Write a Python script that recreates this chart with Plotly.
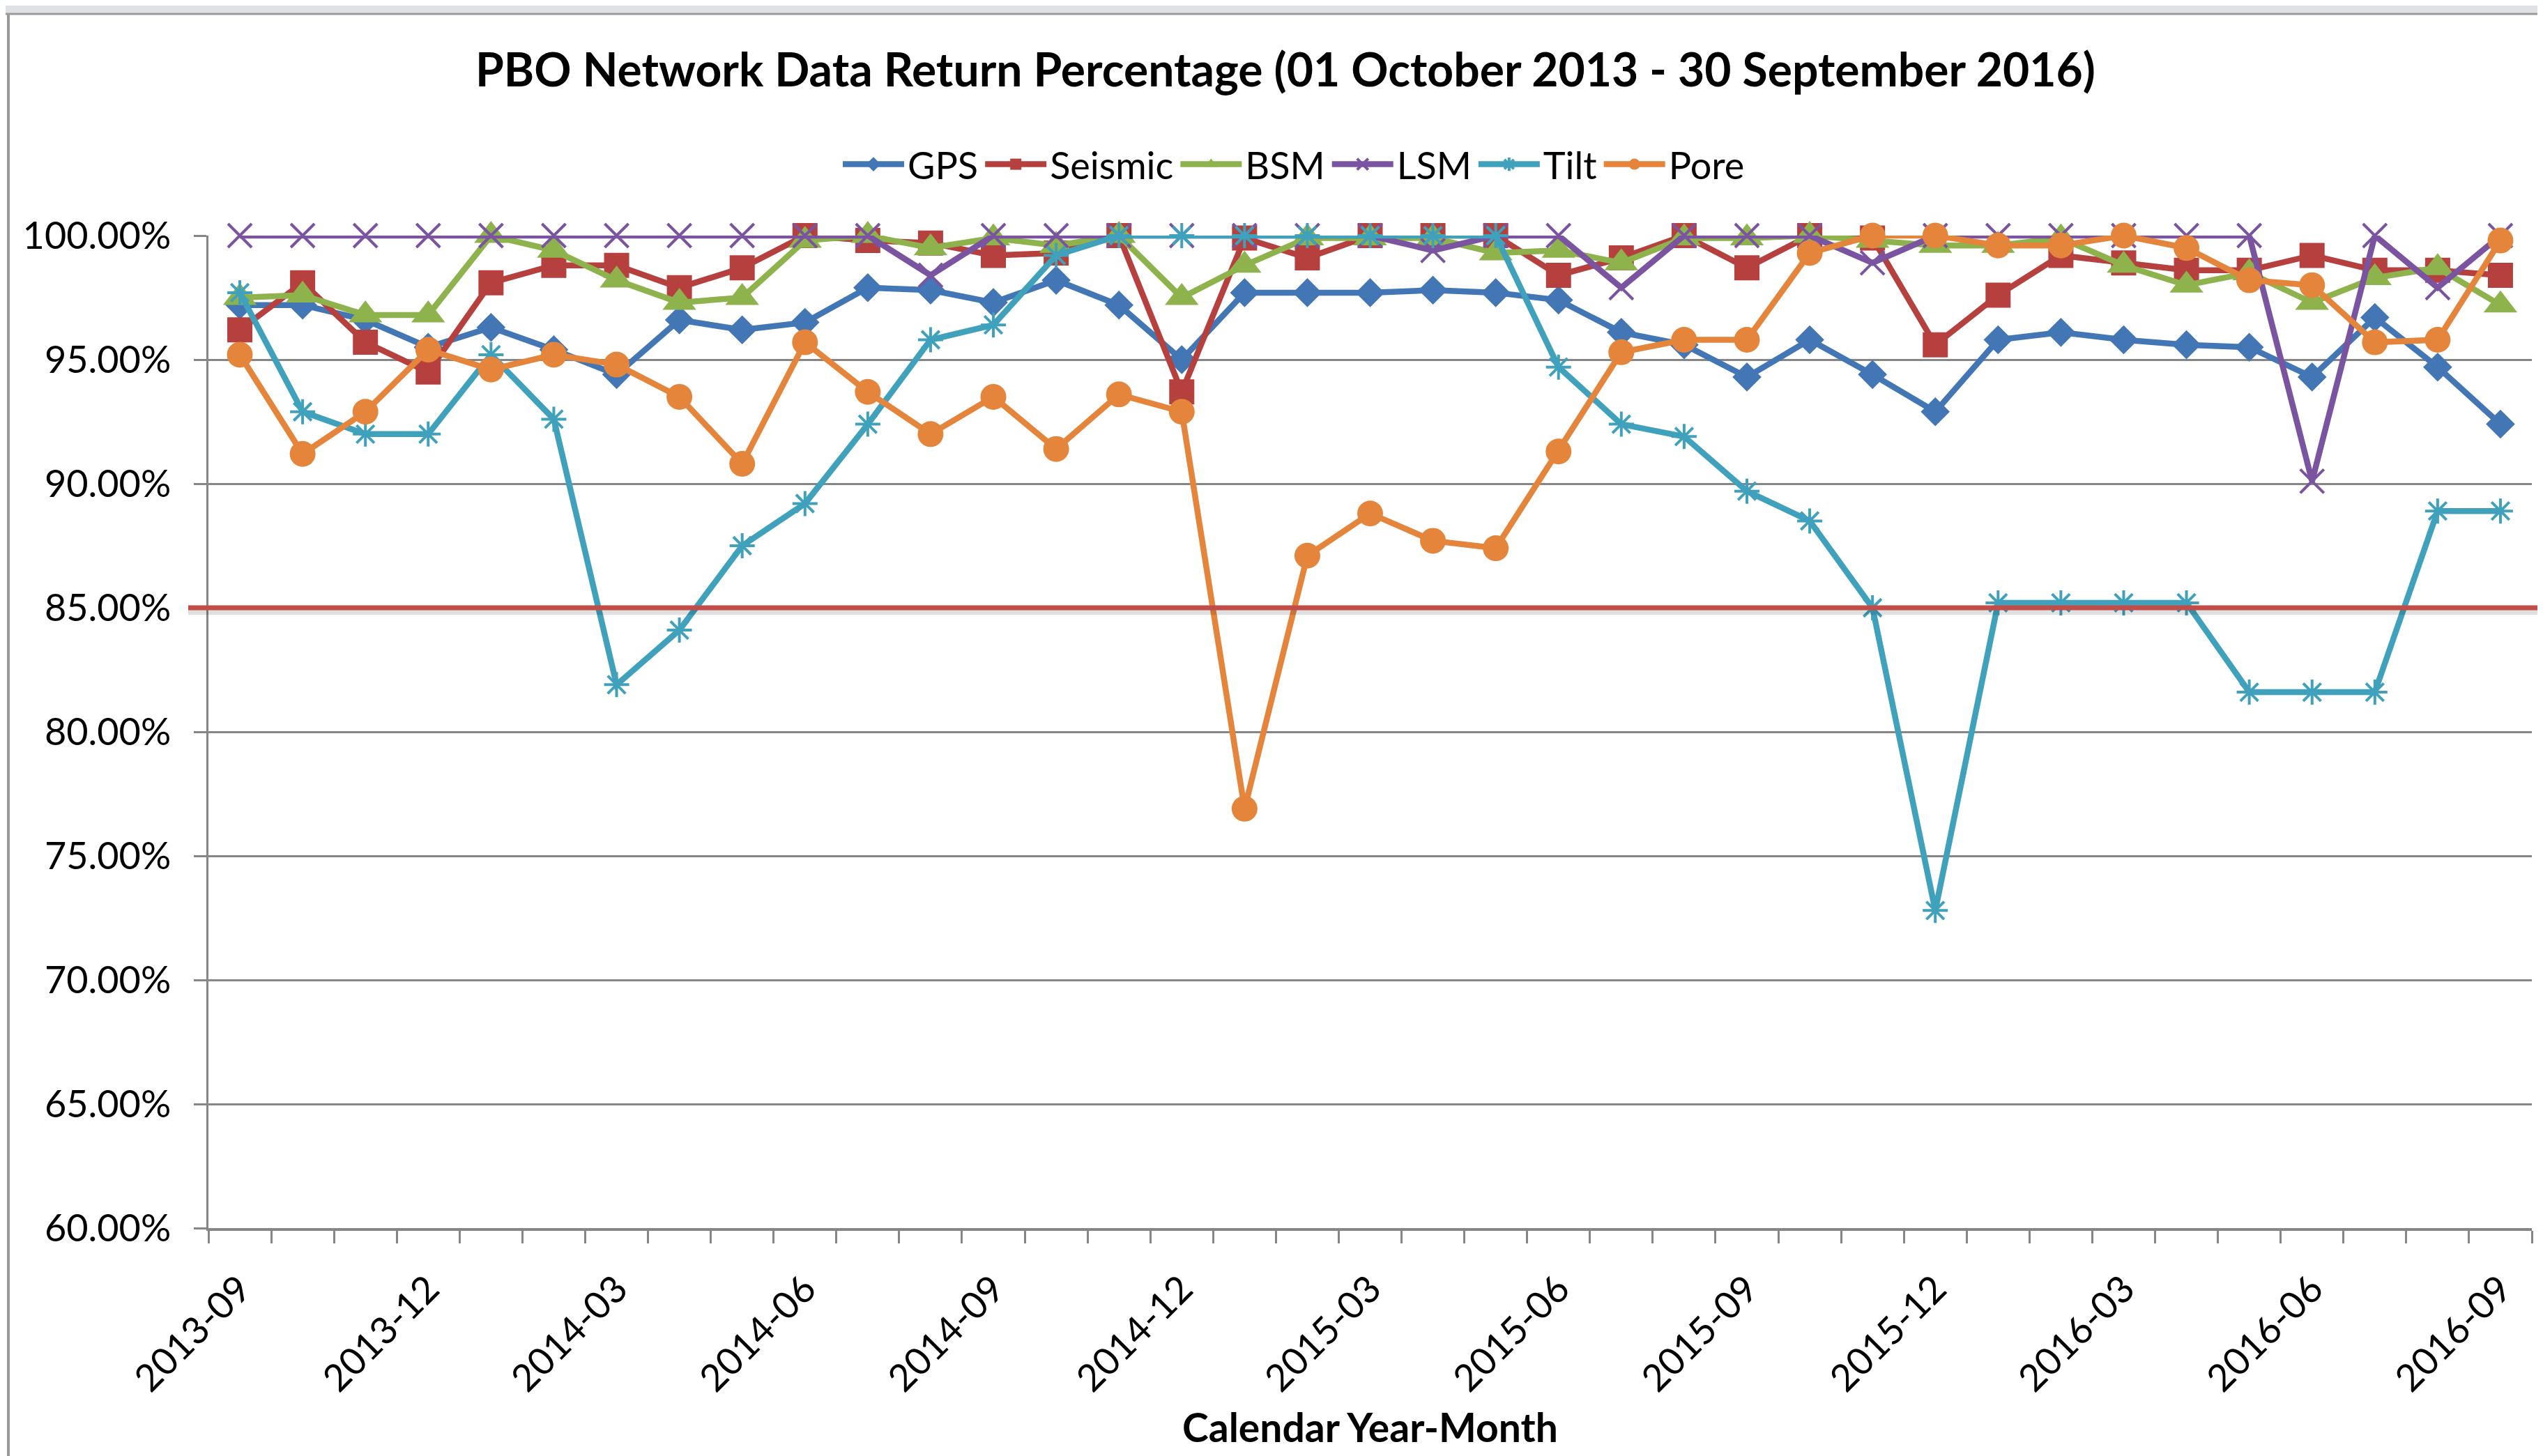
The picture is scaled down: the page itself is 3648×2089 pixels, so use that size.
import plotly.graph_objects as go

months = ["2013-09", "2013-10", "2013-11", "2013-12", "2014-01", "2014-02", "2014-03",
          "2014-04", "2014-05", "2014-06", "2014-07", "2014-08", "2014-09", "2014-10",
          "2014-11", "2014-12", "2015-01", "2015-02", "2015-03", "2015-04", "2015-05",
          "2015-06", "2015-07", "2015-08", "2015-09", "2015-10", "2015-11", "2015-12",
          "2016-01", "2016-02", "2016-03", "2016-04", "2016-05", "2016-06", "2016-07",
          "2016-08", "2016-09"]
labeled_months = ["2013-09", "2013-12", "2014-03", "2014-06", "2014-09", "2014-12",
                  "2015-03", "2015-06", "2015-09", "2015-12", "2016-03", "2016-06", "2016-09"]

gps = [97.2, 97.2, 96.6, 95.5, 96.3, 95.4, 94.4, 96.6, 96.2, 96.5, 97.9, 97.8, 97.3,
       98.2, 97.2, 95.0, 97.7, 97.7, 97.7, 97.8, 97.7, 97.4, 96.1, 95.6, 94.3, 95.8,
       94.4, 92.9, 95.8, 96.1, 95.8, 95.6, 95.5, 94.3, 96.7, 94.7, 92.4]
seismic = [96.2, 98.1, 95.7, 94.5, 98.1, 98.8, 98.8, 97.9, 98.7, 100.0, 99.8, 99.7, 99.2,
           99.3, 100.0, 93.7, 99.9, 99.1, 100.0, 100.0, 100.0, 98.4, 99.1, 100.0, 98.7, 100.0,
           99.9, 95.6, 97.6, 99.2, 98.9, 98.6, 98.6, 99.2, 98.6, 98.6, 98.4]
bsm = [97.5, 97.6, 96.8, 96.8, 100.0, 99.4, 98.2, 97.3, 97.5, 99.8, 100.0, 99.5, 99.9,
       99.6, 100.0, 97.5, 98.8, 99.9, 99.9, 99.9, 99.3, 99.4, 98.9, 99.9, 99.9, 100.0,
       99.8, 99.6, 99.6, 99.9, 98.8, 98.0, 98.5, 97.3, 98.3, 98.7, 97.2]
lsm = [100.0, 100.0, 100.0, 100.0, 100.0, 100.0, 100.0, 100.0, 100.0, 100.0, 100.0, 98.4, 100.0,
       100.0, 100.0, 100.0, 100.0, 100.0, 100.0, 99.4, 100.0, 100.0, 97.9, 100.0, 100.0, 100.0,
       98.9, 100.0, 100.0, 100.0, 100.0, 100.0, 100.0, 90.1, 100.0, 97.9, 100.0]
tilt = [97.7, 92.9, 92.0, 92.0, 95.2, 92.6, 81.9, 84.1, 87.5, 89.2, 92.4, 95.8, 96.4,
        99.2, 100.0, 100.0, 100.0, 100.0, 100.0, 100.0, 100.0, 94.7, 92.4, 91.9, 89.7, 88.5,
        85.0, 72.8, 85.2, 85.2, 85.2, 85.2, 81.6, 81.6, 81.6, 88.9, 88.9]
pore = [95.2, 91.2, 92.9, 95.4, 94.6, 95.2, 94.8, 93.5, 90.8, 95.7, 93.7, 92.0, 93.5,
        91.4, 93.6, 92.9, 76.9, 87.1, 88.8, 87.7, 87.4, 91.3, 95.3, 95.8, 95.8, 99.3,
        100.0, 100.0, 99.6, 99.6, 100.0, 99.5, 98.2, 98.0, 95.7, 95.8, 99.8]
threshold = 85.0

series = [
    ("GPS", gps, "#4276B5", "diamond", 32, 0),
    ("Seismic", seismic, "#B5403E", "square", 36, 0),
    ("BSM", bsm, "#8EB24C", "triangle-up", 42, 0),
    ("LSM", lsm, "#7A54A0", "x-thin-open", 34, 4),
    ("Tilt", tilt, "#40A1BC", "asterisk-open", 30, 4),
    ("Pore", pore, "#E5853C", "circle", 37, 0),
]

W, H = 3648, 2089
L, R, T, B = 291, 3624, 330, 1754

def px_x(px):
    return (px - L) / (R - L)

def px_y(py):
    return (B - py) / (B - T)

FONT = "Lato, 'Open Sans', sans-serif"

fig = go.Figure()
for name, vals, color, sym, size, lw in series:
    fig.add_trace(go.Scatter(
        x=months, y=[v / 100 for v in vals], name=name, mode="lines+markers",
        line=dict(color=color, width=8.5),
        marker=dict(symbol=sym, size=size, color=color,
                    line=dict(color=color, width=lw)),
        cliponaxis=False,
    ))

ticktext = [m if m in labeled_months else "" for m in months]

fig.update_layout(
    width=W, height=H,
    margin=dict(l=L, r=W - R, t=T, b=H - B),
    paper_bgcolor="white", plot_bgcolor="white",
    font=dict(family=FONT, color="black", size=54),
    title=dict(text="<b>PBO Network Data Return Percentage (01 October 2013 - 30 September 2016)</b>",
               x=1836 / W, xref="container", xanchor="center",
               y=1 - 93 / H, yref="container", yanchor="middle",
               font=dict(family=FONT, size=66, color="black")),
    legend=dict(orientation="h", x=px_x(1848), xanchor="center",
                y=px_y(228), yanchor="middle",
                font=dict(family=FONT, size=54, color="black"),
                itemwidth=88, bgcolor="rgba(0,0,0,0)"),
    showlegend=True,
    xaxis=dict(type="category", categoryorder="array", categoryarray=months,
               tickmode="array", tickvals=months, ticktext=ticktext,
               tickson="boundaries", ticks="outside", ticklen=18, tickwidth=3,
               tickcolor="#868686", tickangle=-45, ticklabelstandoff=30,
               showline=True, linecolor="#868686", linewidth=4,
               showgrid=False, zeroline=False,
               tickfont=dict(family=FONT, size=54, color="black"),
               range=[-0.5, len(months) - 0.5]),
    yaxis=dict(range=[0.6, 1.0], tickmode="linear", tick0=0.6, dtick=0.05,
               tickformat=".2%", ticks="outside", ticklen=18, tickwidth=3,
               tickcolor="#868686", showline=True, linecolor="#868686", linewidth=3,
               showgrid=True, gridcolor="#868686", gridwidth=3, zeroline=False,
               ticklabelstandoff=22,
               tickfont=dict(family=FONT, size=54, color="black")),
)

# x-axis title
fig.add_annotation(text="<b>Calendar Year-Month</b>", xref="paper", yref="paper",
                   x=0.5, y=px_y(2039), xanchor="center", yanchor="middle",
                   showarrow=False, font=dict(family=FONT, size=57, color="black"))

# 85% threshold line with soft shadow
fig.add_shape(type="line", xref="paper", yref="y", x0=px_x(262), x1=px_x(3660),
              y0=threshold / 100 - 0.0013, y1=threshold / 100 - 0.0013,
              line=dict(color="rgba(0,0,0,0.12)", width=11), layer="above")
fig.add_shape(type="line", xref="paper", yref="y", x0=px_x(262), x1=px_x(3660),
              y0=threshold / 100, y1=threshold / 100,
              line=dict(color="#C24C48", width=7), layer="above")

# window frame: top band and chart border
fig.add_shape(type="rect", xref="paper", yref="paper", x0=px_x(0), x1=px_x(W),
              y0=px_y(11), y1=px_y(0), fillcolor="#DEE2E7", line=dict(width=0),
              layer="above")
fig.add_shape(type="line", xref="paper", yref="paper", x0=px_x(0), x1=px_x(W),
              y0=px_y(12), y1=px_y(12), line=dict(color="#9a9a9a", width=3), layer="above")
fig.add_shape(type="line", xref="paper", yref="paper", x0=px_x(4), x1=px_x(4),
              y0=px_y(12), y1=px_y(H), line=dict(color="#9a9a9a", width=4), layer="above")

fig.write_html("out.html")
